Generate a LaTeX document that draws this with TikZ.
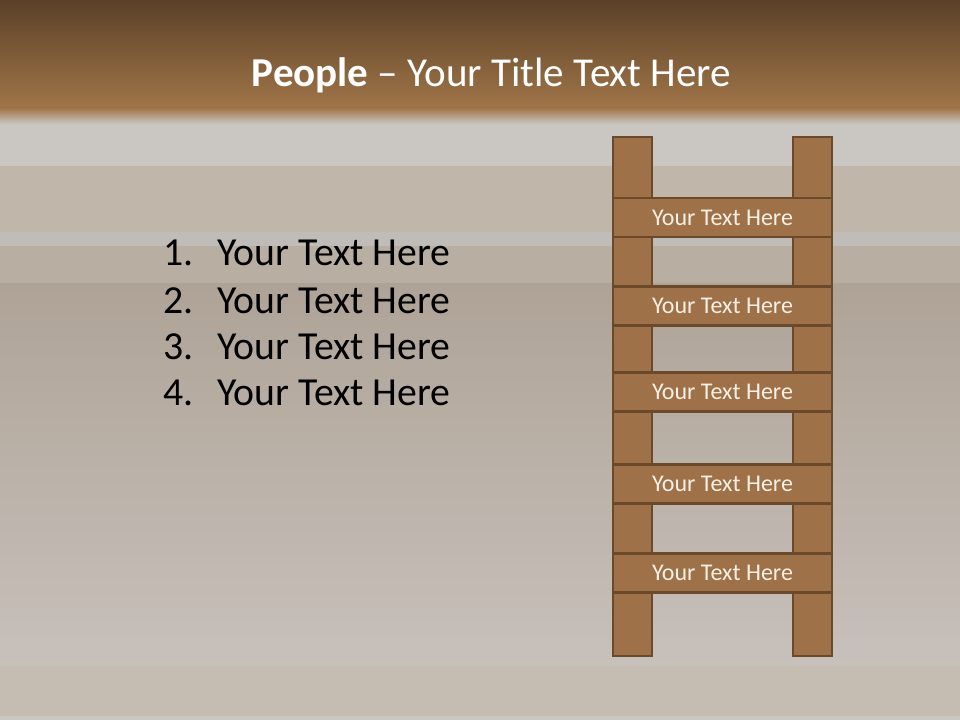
\documentclass[tikz,border=0pt]{standalone}
\usepackage{fontspec}
\setmainfont{Carlito}
\definecolor{headtop}{HTML}{5B4128}
\definecolor{headbot}{HTML}{A07548}
\definecolor{mist}{HTML}{CAC6C1}
\definecolor{plankA}{HTML}{C0B6AA}
\definecolor{plankB}{HTML}{B9AEA2}
\definecolor{grain}{HTML}{AFA397}
\definecolor{grainlight}{HTML}{C7C1BB}
\definecolor{ladderwood}{HTML}{9E7148}
\definecolor{ladderedge}{HTML}{6B4A2B}
\definecolor{rungtext}{HTML}{F8F0E4}

\tikzset{
  rail/.style={draw=ladderedge,fill=ladderwood,line width=1.9pt},
  rung/.style={draw=ladderedge,fill=ladderwood,line width=1.9pt,
    minimum width=164.25pt,minimum height=29pt,inner sep=0pt,
    text=rungtext,font=\fontsize{18}{21}\selectfont},
  listnum/.style={anchor=base west,inner sep=0pt,font=\fontsize{29.8}{35}\selectfont},
}

\begin{document}
\begin{tikzpicture}[x=0.75pt,y=-0.75pt]
\useasboundingbox (0,0) rectangle (960,720);
% background
\shade[top color=headtop,bottom color=headbot] (0,0) rectangle (960,108);
\shade[top color=headbot,bottom color=mist] (0,108) rectangle (960,124);
\fill[mist] (0,124) rectangle (960,166);
\fill[plankA] (0,166) rectangle (960,232);
\fill[mist!95!black] (0,232) rectangle (960,246);
\fill[plankB] (0,246) rectangle (960,284);
\shade[top color=grain,bottom color=grainlight] (0,284) rectangle (960,666);
\fill[plankA!90!white] (0,666) rectangle (960,716);
\fill[mist] (0,716) rectangle (960,720);

% title
\node[anchor=base,inner sep=0pt,text=white,font=\fontsize{30.8}{37}\selectfont] (title)
  at (491.5,87) {\textbf{People} – Your Title Text Here};

% numbered list
\foreach \y [count=\i] in {266,313,359,405}{
  \node[listnum] (num\i) at (163,\y) {\i.};
  \node[listnum] (item\i) at (217,\y) {Your Text Here};
}

% ladder rails
\foreach \ya/\yb in {137/198,237/287,325/373,411/465,503/554,592/656}{
  \draw[rail] (613,\ya) rectangle (652,\yb);
  \draw[rail] (793,\ya) rectangle (832,\yb);
}
% ladder rungs
\foreach \y [count=\i] in {217.5,306,392,484,573}
  \node[rung] (rung\i) at (722.5,\y) {Your Text Here};
\end{tikzpicture}
\end{document}
